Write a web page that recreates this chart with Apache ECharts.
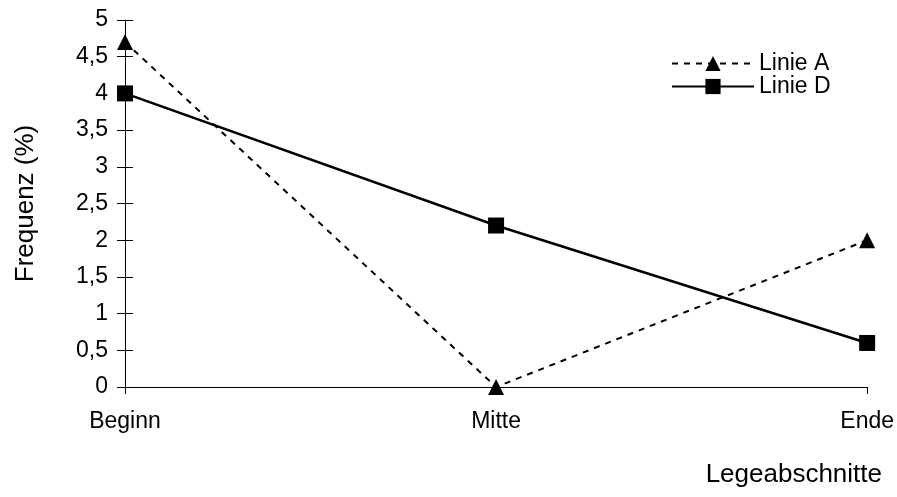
<!DOCTYPE html>
<html>
<head>
<meta charset="utf-8">
<script src="https://cdn.jsdelivr.net/npm/echarts@6/dist/echarts.min.js"></script>
<style>
  html, body { margin: 0; padding: 0; background: #fff; }
  #chart { width: 897px; height: 497px; }
</style>
</head>
<body>
<div id="chart"></div>
<script>
var categories = ["Beginn", "Mitte", "Ende"];
var linieA = [4.7, 0, 2];
var linieD = [4.0, 2.2, 0.6];

var font = "Liberation Sans, Arial, sans-serif";
var chart = echarts.init(document.getElementById("chart"));

var option = {
  backgroundColor: "#fff",
  animation: false,
  textStyle: { fontFamily: font, color: "#000" },
  grid: { left: 125, right: 29, top: 20, bottom: 110 },
  legend: {
    orient: "vertical",
    left: 666,
    top: 47,
    itemWidth: 82,
    itemHeight: 19,
    itemGap: 0,
    textStyle: { fontSize: 23, lineHeight: 22, color: "#000", fontFamily: font },
    data: ["Linie A", "Linie D"]
  },
  // x axis title sits below the tick labels, right-aligned past the last tick
  graphic: [{
    type: "text",
    right: 15,
    top: 462,
    style: { text: "Legeabschnitte", fontSize: 26, fontFamily: font, fill: "#000" }
  }],
  xAxis: {
    type: "category",
    data: categories,
    boundaryGap: false,
    axisLine: { lineStyle: { color: "#000", width: 1 } },
    axisTick: { alignWithLabel: true, length: 7, lineStyle: { color: "#000" } },
    axisLabel: { fontSize: 23, color: "#000", margin: 23 },
    splitLine: { show: false }
  },
  yAxis: [{
    type: "value",
    min: 0,
    max: 5,
    interval: 0.5,
    name: "Frequenz (%)",
    nameLocation: "middle",
    nameGap: 86,
    nameTextStyle: { fontSize: 26, color: "#000" },
    axisLine: { show: true, lineStyle: { color: "#000", width: 1 } },
    axisTick: { show: true, length: 8, lineStyle: { color: "#000" } },
    axisLabel: {
      fontSize: 23, color: "#000", margin: 17,
      formatter: function (v) { return String(v).replace(".", ","); }
    },
    splitLine: { show: false }
  }, {
    // second copy only for the inner half of the crossing ticks
    type: "value",
    min: 0,
    max: 5,
    interval: 0.5,
    position: "left",
    axisLine: { show: false },
    axisTick: { show: true, inside: true, length: 8, lineStyle: { color: "#000" } },
    axisLabel: { show: false },
    splitLine: { show: false }
  }],
  series: [{
    name: "Linie A",
    type: "line",
    data: linieA,
    symbol: "triangle",
    symbolSize: 16,
    itemStyle: { color: "#000" },
    lineStyle: { color: "#000", width: 2, type: [6, 6] },
    z: 3
  }, {
    name: "Linie D",
    type: "line",
    data: linieD,
    symbol: "rect",
    symbolSize: 16,
    itemStyle: { color: "#000" },
    lineStyle: { color: "#000", width: 2.5, type: "solid" },
    z: 4
  }]
};

chart.setOption(option);
</script>
</body>
</html>
